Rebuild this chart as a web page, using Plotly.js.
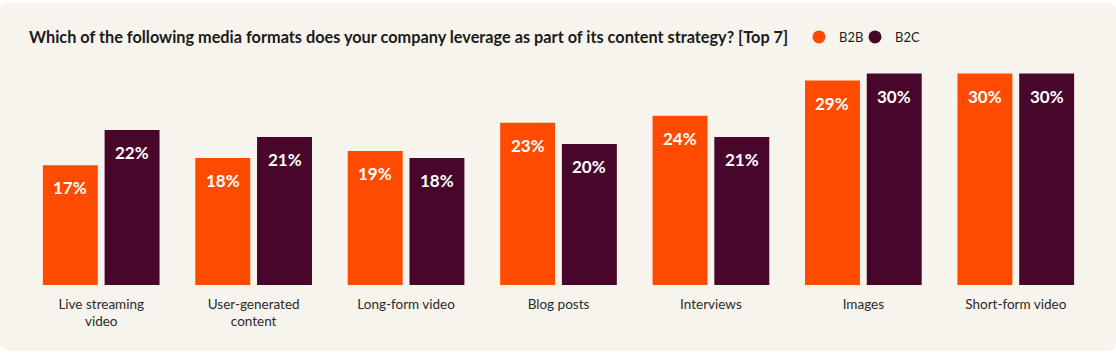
<!DOCTYPE html>
<html>
<head>
<meta charset="utf-8">
<script src="https://cdn.plot.ly/plotly-3.0.1.min.js"></script>
<style>
  html, body { margin: 0; padding: 0; background: #ffffff; }
  #card { position: absolute; left: 0; top: 3px; width: 1116px; height: 348px; border-radius: 8px; overflow: hidden; background: #f7f4ee; }
</style>
</head>
<body>
<div id="card"></div>
<script>
const categories = ["Live streaming<br>video", "User-generated<br>content", "Long-form video", "Blog posts", "Interviews", "Images", "Short-form video"];
const b2b = [17, 18, 19, 23, 24, 29, 30];
const b2c = [22, 21, 18, 20, 21, 30, 30];
const seriesNames = ["B2B", "B2C"];
const colors = ["#ff4b00", "#47062a"];

const FONT = "Lato, 'Open Sans', sans-serif";
const bargap = 0.19;
const slotOffset = (1 - bargap) / 4; // centre of each bar within its group (category units)

const traces = [
  { type: "bar", x: categories, y: b2b, name: seriesNames[0], marker: { color: colors[0] }, showlegend: false, hoverinfo: "skip" },
  { type: "bar", x: categories, y: b2c, name: seriesNames[1], marker: { color: colors[1] }, showlegend: false, hoverinfo: "skip" },
  { type: "scatter", mode: "markers", x: [null], y: [null], name: seriesNames[0], marker: { color: colors[0], size: 13, symbol: "circle" }, showlegend: true, legend: "legend" },
  { type: "scatter", mode: "markers", x: [null], y: [null], name: seriesNames[1], marker: { color: colors[1], size: 13, symbol: "circle" }, showlegend: true, legend: "legend2" }
];

const annotations = [];
[b2b, b2c].forEach((vals, s) => {
  vals.forEach((v, i) => {
    annotations.push({
      x: i + (s === 0 ? -slotOffset : slotOffset), y: v, xref: "x", yref: "y",
      text: "<b>" + v + "%</b>", showarrow: false, yanchor: "middle", yshift: -22.5,
      font: { family: FONT, size: 17, color: "#ffffff" }
    });
  });
});

const legendBase = {
  orientation: "h", xref: "container", yref: "container",
  xanchor: "left", y: 1 - 34 / 348, yanchor: "middle",
  font: { family: FONT, size: 13, color: "#1a1a1a" },
  bgcolor: "rgba(0,0,0,0)"
};

const layout = {
  width: 1116, height: 348,
  paper_bgcolor: "rgba(0,0,0,0)", plot_bgcolor: "rgba(0,0,0,0)",
  margin: { l: 25, r: 24, t: 49, b: 66 },
  barmode: "group", bargap: bargap, bargroupgap: 0.11,
  title: {
    text: "<b>Which of the following media formats does your company leverage as part of its content strategy? [Top 7]</b>",
    x: 29 / 1116, xref: "container", xanchor: "left",
    y: 1 - 34 / 348, yref: "container", yanchor: "middle",
    font: { family: FONT, size: 16.3, color: "#1a1a1a" }
  },
  showlegend: true,
  legend: Object.assign({}, legendBase, { x: 799 / 1116 }),
  legend2: Object.assign({}, legendBase, { x: 855 / 1116 }),
  xaxis: {
    type: "category", showgrid: false, zeroline: false, showline: false, ticks: "",
    ticklabelstandoff: 9,
    tickfont: { family: FONT, size: 13.5, color: "#2a2a2a" }, fixedrange: true
  },
  yaxis: {
    range: [0, 33.05], visible: false, showgrid: false, zeroline: false, fixedrange: true
  },
  annotations: annotations
};

Plotly.newPlot("card", traces, layout, { displayModeBar: false, staticPlot: true });
</script>
</body>
</html>
